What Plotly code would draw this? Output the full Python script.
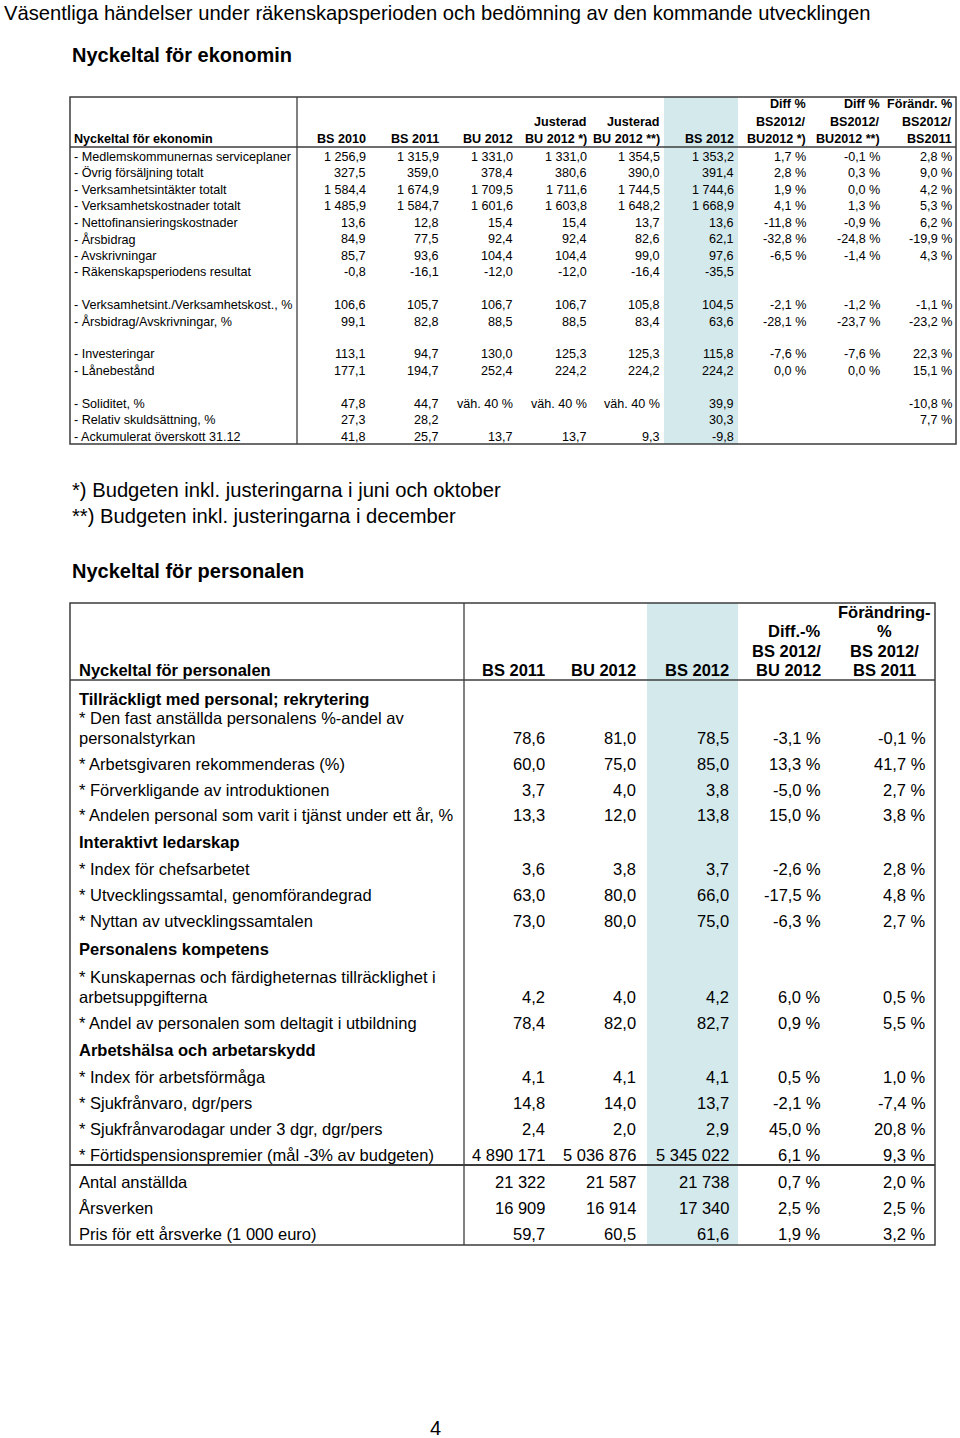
import plotly.graph_objects as go

W, H = 960, 1438
FONT = "Liberation Sans, Arial, Helvetica, sans-serif"

# ---------------- texts ----------------
page_title = "Väsentliga händelser under räkenskapsperioden och bedömning av den kommande utvecklingen"
econ_title = "Nyckeltal för ekonomin"
pers_title = "Nyckeltal för personalen"
footnotes = ["*) Budgeten inkl. justeringarna i juni och oktober",
             "**) Budgeten inkl. justeringarna i december"]
page_number = "4"

# ---------------- table 1: economy ----------------
econ_label_header = "Nyckeltal för ekonomin"
econ_col_headers = [["BS 2010"], ["BS 2011"], ["BU 2012"],
                    ["Justerad", "BU 2012 *)"], ["Justerad", "BU 2012 **)"], ["BS 2012"],
                    ["Diff %", "BS2012/", "BU2012 *)"], ["Diff %", "BS2012/", "BU2012 **)"],
                    ["Förändr. %", "BS2012/", "BS2011"]]
econ_rows = ["- Medlemskommunernas serviceplaner", "- Övrig försäljning totalt",
             "- Verksamhetsintäkter totalt", "- Verksamhetskostnader totalt",
             "- Nettofinansieringskostnader", "- Årsbidrag", "- Avskrivningar",
             "- Räkenskapsperiodens resultat", None,
             "- Verksamhetsint./Verksamhetskost., %", "- Årsbidrag/Avskrivningar, %", None,
             "- Investeringar", "- Lånebestånd", None,
             "- Soliditet, %", "- Relativ skuldsättning, %", "- Ackumulerat överskott 31.12"]
econ_bs2010 = [1256.9, 327.5, 1584.4, 1485.9, 13.6, 84.9, 85.7, -0.8, None, 106.6, 99.1, None, 113.1, 177.1, None, 47.8, 27.3, 41.8]
econ_bs2011 = [1315.9, 359.0, 1674.9, 1584.7, 12.8, 77.5, 93.6, -16.1, None, 105.7, 82.8, None, 94.7, 194.7, None, 44.7, 28.2, 25.7]
econ_bu2012 = [1331.0, 378.4, 1709.5, 1601.6, 15.4, 92.4, 104.4, -12.0, None, 106.7, 88.5, None, 130.0, 252.4, None, "väh. 40 %", None, 13.7]
econ_jbu2012a = [1331.0, 380.6, 1711.6, 1603.8, 15.4, 92.4, 104.4, -12.0, None, 106.7, 88.5, None, 125.3, 224.2, None, "väh. 40 %", None, 13.7]
econ_jbu2012b = [1354.5, 390.0, 1744.5, 1648.2, 13.7, 82.6, 99.0, -16.4, None, 105.8, 83.4, None, 125.3, 224.2, None, "väh. 40 %", None, 9.3]
econ_bs2012 = [1353.2, 391.4, 1744.6, 1668.9, 13.6, 62.1, 97.6, -35.5, None, 104.5, 63.6, None, 115.8, 224.2, None, 39.9, 30.3, -9.8]
econ_diff_a = [1.7, 2.8, 1.9, 4.1, -11.8, -32.8, -6.5, None, None, -2.1, -28.1, None, -7.6, 0.0, None, None, None, None]
econ_diff_b = [-0.1, 0.3, 0.0, 1.3, -0.9, -24.8, -1.4, None, None, -1.2, -23.7, None, -7.6, 0.0, None, None, None, None]
econ_change = [2.8, 9.0, 4.2, 5.3, 6.2, -19.9, 4.3, None, None, -1.1, -23.2, None, 22.3, 15.1, None, -10.8, 7.7, None]
econ_series = [econ_bs2010, econ_bs2011, econ_bu2012, econ_jbu2012a, econ_jbu2012b,
               econ_bs2012, econ_diff_a, econ_diff_b, econ_change]
econ_is_pct = [False, False, False, False, False, False, True, True, True]

# ---------------- table 2: personnel ----------------
pers_label_header = "Nyckeltal för personalen"
pers_col_headers = [["BS 2011"], ["BU 2012"], ["BS 2012"],
                    ["Diff.-%", "BS 2012/", "BU 2012"],
                    ["Förändring-", "%", "BS 2012/", "BS 2011"]]
pers_labels = ["Tillräckligt med personal; rekrytering",
               ["* Den fast anställda personalens %-andel av", "personalstyrkan"],
               "* Arbetsgivaren rekommenderas (%)",
               "* Förverkligande av introduktionen",
               "* Andelen personal som varit i tjänst under ett år, %",
               "Interaktivt ledarskap",
               "* Index för chefsarbetet",
               "* Utvecklingssamtal, genomförandegrad",
               "* Nyttan av utvecklingssamtalen",
               "Personalens kompetens",
               ["* Kunskapernas och färdigheternas tillräcklighet i", "arbetsuppgifterna"],
               "* Andel av personalen som deltagit i utbildning",
               "Arbetshälsa och arbetarskydd",
               "* Index för arbetsförmåga",
               "* Sjukfrånvaro, dgr/pers",
               "* Sjukfrånvarodagar under 3 dgr, dgr/pers",
               "* Förtidspensionspremier (mål -3% av budgeten)",
               "Antal anställda",
               "Årsverken",
               "Pris för ett årsverke (1 000 euro)"]
pers_is_section = [True, False, False, False, False, True, False, False, False, True,
                   False, False, True, False, False, False, False, False, False, False]
pers_bs2011 = [None, 78.6, 60.0, 3.7, 13.3, None, 3.6, 63.0, 73.0, None, 4.2, 78.4, None, 4.1, 14.8, 2.4, 4890171, 21322, 16909, 59.7]
pers_bu2012 = [None, 81.0, 75.0, 4.0, 12.0, None, 3.8, 80.0, 80.0, None, 4.0, 82.0, None, 4.1, 14.0, 2.0, 5036876, 21587, 16914, 60.5]
pers_bs2012 = [None, 78.5, 85.0, 3.8, 13.8, None, 3.7, 66.0, 75.0, None, 4.2, 82.7, None, 4.1, 13.7, 2.9, 5345022, 21738, 17340, 61.6]
pers_diff = [None, -3.1, 13.3, -5.0, 15.0, None, -2.6, -17.5, -6.3, None, 6.0, 0.9, None, 0.5, -2.1, 45.0, 6.1, 0.7, 2.5, 1.9]
pers_change = [None, -0.1, 41.7, 2.7, 3.8, None, 2.8, 4.8, 2.7, None, 0.5, 5.5, None, 1.0, -7.4, 20.8, 9.3, 2.0, 2.5, 3.2]
pers_series = [pers_bs2011, pers_bu2012, pers_bs2012, pers_diff, pers_change]
pers_is_pct = [False, False, False, True, True]

# ---------------- layout constants ----------------
BORDER = "#3c3c3c"
SHADE = "#d3e9ec"
T1 = dict(left=70, right=956, top=97, bottom=444, head=147, div=297, shade=(664, 738),
          col_right=[368, 441, 515, 589, 662, 736, 808, 882, 954],
          head_base=139, head_pitch=17.5, row0=157, pitch=16.45, fs=12.6, label_x=72)
T2 = dict(left=70, right=935, top=603, bottom=1245, head=680, div=464, shade=(647, 738),
          sep=1165, col_right=[547, 638, 731, 823, 928], last_head_center=884,
          head_base=670, head_pitch=19.3, fs=16.5, label_x=77, line_gap=20,
          row_gaps=[0, 39, 26, 26, 25, 27, 27, 26, 26, 28, 48, 26, 27, 27, 26, 26, 26, 27, 26, 26],
          first_row=699)


def fmt(v, pct=False):
    if v is None:
        return ""
    if isinstance(v, str):
        return v
    if isinstance(v, int):
        s = f"{v:,d}".replace(",", " ")
    else:
        s = f"{v:,.1f}".replace(",", " ").replace(".", ",")
    return s + (" %" if pct else "")


fig = go.Figure()
shapes = []
ann = []


def text(x, y, s, size, anchor="left", bold=False):
    ann.append(dict(x=x, y=y, xref="x", yref="y", text=(f"<b>{s}</b>" if bold else s),
                    showarrow=False, xanchor=anchor, yanchor="middle",
                    font=dict(family=FONT, size=size, color="#000000")))


def rect(x0, y0, x1, y1, fill=None, line=None, width=1.3):
    shapes.append(dict(type="rect", xref="x", yref="y", x0=x0, y0=y0, x1=x1, y1=y1,
                       fillcolor=fill if fill else "rgba(0,0,0,0)",
                       line=dict(color=line if line else "rgba(0,0,0,0)", width=width if line else 0),
                       layer="below"))


def hline(x0, x1, y, width=1.3):
    shapes.append(dict(type="line", xref="x", yref="y", x0=x0, x1=x1, y0=y, y1=y,
                       line=dict(color=BORDER, width=width)))


def vline(x, y0, y1, width=1.3):
    shapes.append(dict(type="line", xref="x", yref="y", x0=x, x1=x, y0=y0, y1=y1,
                       line=dict(color=BORDER, width=width)))


# page texts
text(2, 13, page_title, 20.2)
text(70, 55, econ_title, 20, bold=True)
text(70, 490, footnotes[0], 20.2)
text(70, 516, footnotes[1], 20.2)
text(70, 571, pers_title, 20, bold=True)
text(435, 1428, page_number, 20, anchor="center")

# ---------- table 1 ----------
rect(T1["shade"][0], T1["top"], T1["shade"][1], T1["bottom"], fill=SHADE)
rect(T1["left"], T1["top"], T1["right"], T1["bottom"], line=BORDER, width=1.5)
hline(T1["left"], T1["right"], T1["head"])
vline(T1["div"], T1["top"], T1["bottom"])
text(T1["label_x"], T1["head_base"], econ_label_header, T1["fs"], bold=True)
for xr, lines in zip(T1["col_right"], econ_col_headers):
    for k, s in enumerate(reversed(lines)):
        text(xr, T1["head_base"] - k * T1["head_pitch"], s, T1["fs"], anchor="right", bold=True)
for i, lab in enumerate(econ_rows):
    if lab is None:
        continue
    y = T1["row0"] + i * T1["pitch"]
    text(T1["label_x"], y, lab, T1["fs"])
    for xr, ser, pct in zip(T1["col_right"], econ_series, econ_is_pct):
        s = fmt(ser[i], pct)
        if s:
            text(xr, y, s, T1["fs"], anchor="right")

# ---------- table 2 ----------
rect(T2["shade"][0], T2["top"], T2["shade"][1], T2["bottom"], fill=SHADE)
rect(T2["left"], T2["top"], T2["right"], T2["bottom"], line=BORDER, width=1.5)
hline(T2["left"], T2["right"], T2["head"])
hline(T2["left"], T2["right"], T2["sep"], width=2)
vline(T2["div"], T2["top"], T2["bottom"])
text(T2["label_x"], T2["head_base"], pers_label_header, T2["fs"], bold=True)
for j, (xr, lines) in enumerate(zip(T2["col_right"], pers_col_headers)):
    last = j == len(pers_col_headers) - 1
    for k, s in enumerate(reversed(lines)):
        yy = T2["head_base"] - k * T2["head_pitch"]
        if last:
            text(T2["last_head_center"], yy, s, T2["fs"], anchor="center", bold=True)
        else:
            text(xr, yy, s, T2["fs"], anchor="right", bold=True)
y = T2["first_row"]
for i, lab in enumerate(pers_labels):
    y += T2["row_gaps"][i]
    lines = lab if isinstance(lab, list) else [lab]
    for k, s in enumerate(reversed(lines)):
        text(T2["label_x"], y - k * T2["line_gap"], s, T2["fs"], bold=pers_is_section[i])
    for xr, ser, pct in zip(T2["col_right"], pers_series, pers_is_pct):
        s = fmt(ser[i], pct)
        if s:
            text(xr, y, s, T2["fs"], anchor="right")

fig.update_layout(
    width=W, height=H, margin=dict(l=0, r=0, t=0, b=0),
    paper_bgcolor="white", plot_bgcolor="white",
    xaxis=dict(range=[0, W], visible=False, fixedrange=True),
    yaxis=dict(range=[H, 0], visible=False, fixedrange=True),
    shapes=shapes, annotations=ann, showlegend=False,
)

fig.write_html("out.html", config={"displayModeBar": False},
               post_script="document.body.style.margin='0';document.body.style.overflow='hidden';")
